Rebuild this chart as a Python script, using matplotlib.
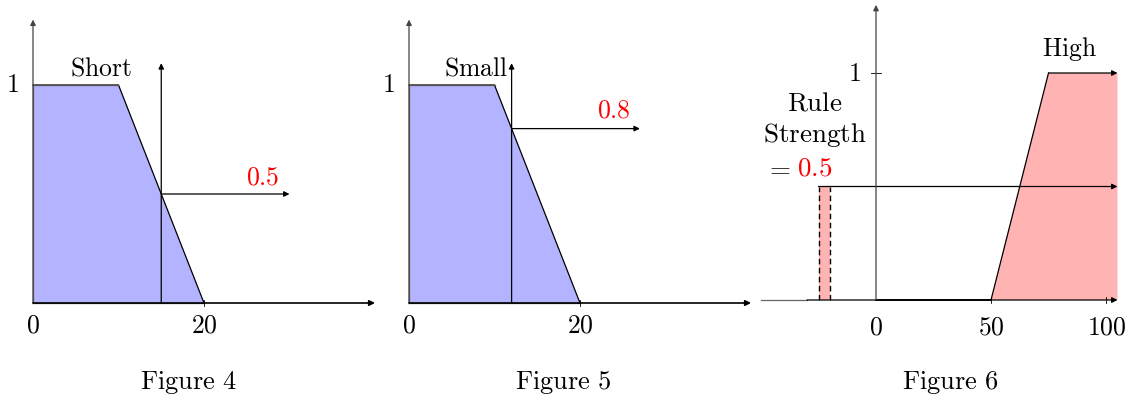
import matplotlib
matplotlib.use("Agg")
import matplotlib.pyplot as plt

plt.rcParams['mathtext.fontset'] = 'cm'
plt.rcParams['font.family'] = 'serif'

# membership functions (x, mu)
short_x = [0, 10, 20]
short_y = [1, 1, 0]
small_x = [0, 10, 20]
small_y = [1, 1, 0]
high_x = [50, 75, 105]
high_y = [0, 1, 1]

# crisp inputs and their degrees
cut1_x, cut1_mu = 15, 0.5
cut2_x, cut2_mu = 12, 0.8
rule_strength = 0.5
bar_x = [-25, -20]

captions = ["Figure 4", "Figure 5", "Figure 6"]

BLUE = '#b3b3ff'
PINK = '#ffb3b3'
FS = 18.5
LW = 0.9


def m(s):
    return r'$\mathrm{' + s.replace(' ', r'\ ') + '}$'


def arrow(ax, x0, y0, x1, y1, lw=LW, color='black'):
    ax.annotate('', xy=(x1, y1), xytext=(x0, y0),
                arrowprops=dict(arrowstyle='-|>', lw=lw, color=color,
                                mutation_scale=8, shrinkA=0, shrinkB=0))


fig = plt.figure(figsize=(11.27, 4.01), dpi=100)
W, H = 1127, 401


def make_ax(left, width, origin_px, xscale, base_px, yscale):
    ax = fig.add_axes([left / W, 0, width / W, 1])
    ax.set_xlim(-origin_px / xscale, (width - origin_px) / xscale)
    ax.set_ylim(-base_px / yscale, (H - base_px) / yscale)
    ax.axis('off')
    return ax


def left_panel(ax, fx, fy, cx, cmu, name, name_x, val_x, val_y):
    ax.fill(fx + [fx[0]], fy + [0], color=BLUE, lw=0)
    ax.plot(fx, fy, color='black', lw=LW)
    ax.plot([fx[0], fx[0]], [0, fy[0]], color='#555555', lw=LW)
    ax.plot([fx[0], fx[1]], [fy[0], fy[1]], color='#555555', lw=LW)
    arrow(ax, 0, 0, 0, 1.3, color='#444444')
    arrow(ax, 0, 0, 40, 0, lw=1.2)
    ax.plot([0, fx[-1]], [0, 0], color='#444444', lw=LW)
    arrow(ax, cx, 0, cx, 1.1)
    arrow(ax, cx, cmu, cx + 15, cmu)
    ax.plot([20, 20], [-0.015, 0.015], color='black', lw=0.6)
    ax.text(0, -0.1, m('0'), fontsize=FS, ha='center', va='center')
    ax.text(20, -0.1, m('20'), fontsize=FS, ha='center', va='center')
    ax.text(-2.45, 1, m('1'), fontsize=FS, ha='center', va='center')
    ax.text(name_x, 1.078, m(name), fontsize=FS, ha='center', va='center')
    ax.text(val_x, val_y, m(str(cmu)), fontsize=FS, color='red',
            ha='center', va='center')


ax1 = make_ax(0, 380, 33, 8.55, 98, 218)
left_panel(ax1, short_x, short_y, cut1_x, cut1_mu, 'Short', 7.9, 26.9, 0.578)

ax2 = make_ax(380, 380, 29, 8.55, 98, 218)
left_panel(ax2, small_x, small_y, cut2_x, cut2_mu, 'Small', 7.9, 24.0, 0.885)

ax3 = make_ax(745, 382, 131, 2.3, 101, 227)
ax3.fill(high_x + [high_x[-1]], high_y + [0], color=PINK, lw=0)
ax3.fill([bar_x[0], bar_x[0], bar_x[1], bar_x[1]],
         [0, rule_strength, rule_strength, 0], color=PINK, lw=0)
for bx in bar_x:
    ax3.plot([bx, bx], [0, rule_strength], color='black', lw=1.0, ls=(0, (4, 2.5)))
arrow(ax3, -30, 0, 105, 0)
ax3.plot([-50, -30], [0, 0], color='#666666', lw=LW)
ax3.plot([0, high_x[0]], [0, 0], color='black', lw=1.3)
ax3.plot(high_x[:2], high_y[:2], color='black', lw=LW)
arrow(ax3, high_x[1], 1, high_x[2], 1)
arrow(ax3, bar_x[0], rule_strength, 105, rule_strength)
arrow(ax3, 0, 0, 0, 1.3, color='#444444')
ax3.plot([-2, 2], [1, 1], color='black', lw=0.6)
ax3.plot([100, 100], [-0.015, 0.015], color='black', lw=0.6)
ax3.plot([50, 50], [-0.015, 0.015], color='black', lw=0.6)
ax3.text(0, -0.12, m('0'), fontsize=FS, ha='center', va='center')
ax3.text(50, -0.12, m('50'), fontsize=FS, ha='center', va='center')
ax3.text(100.5, -0.12, m('100'), fontsize=FS, ha='center', va='center')
ax3.text(-9.5, 1, m('1'), fontsize=FS, ha='center', va='center')
ax3.text(84, 1.106, m('High'), fontsize=FS, ha='center', va='center')
ax3.text(-26.5, 0.868, m('Rule'), fontsize=19.5, ha='center', va='center')
ax3.text(-26.5, 0.727, m('Strength'), fontsize=19.5, ha='center', va='center')
ax3.text(-42.5, 0.58, r'$=$', fontsize=19.5, ha='center', va='center')
ax3.text(-26.5, 0.58, m(str(rule_strength)), fontsize=19.5, color='red',
         ha='center', va='center')

for cx, cap in zip([188, 563, 950], captions):
    fig.text(cx / W, (H - 382) / H, m(cap), fontsize=19, ha='center', va='center')

fig.savefig('out.png', dpi=100)
